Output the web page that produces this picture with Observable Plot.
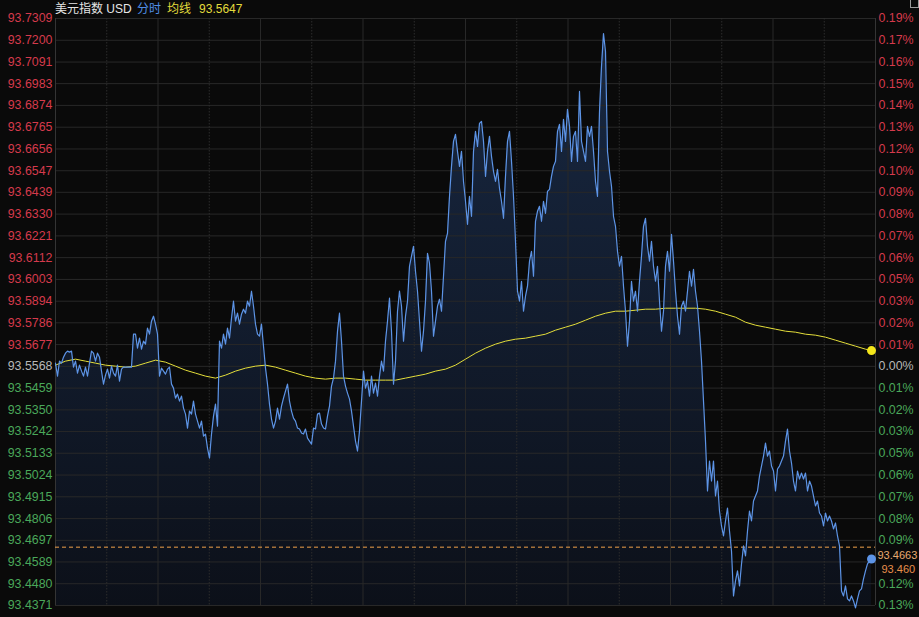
<!DOCTYPE html>
<html><head><meta charset="utf-8">
<script src="https://cdn.jsdelivr.net/npm/d3@7"></script>
<script src="https://cdn.jsdelivr.net/npm/@observablehq/plot@0.6"></script>
<style>
html,body{margin:0;padding:0;background:#0a0a0a;}
#wrap{position:relative;width:919px;height:617px;overflow:hidden;background:#0a0a0a;}
#hdr{position:absolute;left:55px;top:0px;font-size:12px;line-height:15px;white-space:nowrap;font-family:"Liberation Sans","Noto Sans CJK SC",sans-serif;}
#hdr .cn{font-family:"Noto Sans CJK SC","Liberation Sans",sans-serif;}
#icon{position:absolute;left:910px;top:0px;width:7px;height:7px;border:1px solid #9a9a9a;border-top:none;}
</style></head>
<body><div id="wrap"><div id="chart"></div>
<div id="hdr"><span class="cn" style="color:#e6e6e6">美元指数</span><span style="color:#e6e6e6"> USD </span><span class="cn" style="color:#4f8ee6;margin-left:2px">分时</span><span class="cn" style="color:#e2dc3c;margin-left:6px">均线</span><span style="color:#e2dc3c;margin-left:8px">93.5647</span></div>
<div id="icon"></div>
</div>
<script>
// Reference levels
const prevClose = 93.5568;
const markPrice = 93.4663;
const lastLabel = "93.460";
const leftTicks = [93.7309, 93.7200, 93.7091, 93.6983, 93.6874, 93.6765, 93.6656, 93.6547, 93.6439, 93.6330,
  93.6221, 93.6112, 93.6003, 93.5894, 93.5786, 93.5677, 93.5568, 93.5459, 93.5350, 93.5242,
  93.5133, 93.5024, 93.4915, 93.4806, 93.4697, 93.4589, 93.4480, 93.4371];
const rightLabels = ["0.19%","0.17%","0.16%","0.15%","0.14%","0.13%","0.12%","0.10%","0.09%","0.08%",
  "0.07%","0.06%","0.05%","0.03%","0.02%","0.01%","0.00%","0.01%","0.02%","0.03%",
  "0.05%","0.06%","0.07%","0.08%","0.09%","0.10%","0.12%","0.13%"];
// Time grid (hours of the session)
const majorHours = [3, 6, 9, 12, 15, 18, 21];
const minorHours = [1.5, 4.5, 7.5, 10.5, 13.5, 16.5, 19.5, 22.5];
const sessionHours = 24;
const sampleCount = 410;
// Intraday price samples
const prices = [
93.5584,93.5519,93.5594,93.5584,93.5614,93.5634,93.5644,93.5639,93.5644,93.5564,
93.5594,93.5534,93.5574,93.5544,93.5519,93.5564,93.5519,93.5584,93.5644,93.5634,
93.5594,93.5634,93.5614,93.5544,93.5479,93.5524,93.5554,93.5509,93.5569,93.5534,
93.5519,93.5574,93.5494,93.5554,93.5564,93.5564,93.5564,93.5564,93.5564,93.5729,
93.5729,93.5659,93.5709,93.5654,93.5694,93.5679,93.5759,93.5729,93.5794,93.5819,
93.5779,93.5729,93.5519,93.5559,93.5544,93.5529,93.5554,93.5564,93.5479,93.5459,
93.5409,93.5429,93.5394,93.5419,93.5359,93.5329,93.5259,93.5344,93.5329,93.5394,
93.5329,93.5294,93.5259,93.5294,93.5219,93.5229,93.5159,93.5109,93.5229,93.5319,
93.5379,93.5269,93.5694,93.5659,93.5729,93.5679,93.5759,93.5709,93.5809,93.5894,
93.5794,93.5834,93.5779,93.5829,93.5854,93.5834,93.5894,93.5869,93.5944,93.5869,
93.5779,93.5729,93.5719,93.5779,93.5669,93.5559,93.5479,93.5379,93.5304,93.5259,
93.5294,93.5359,93.5304,93.5369,93.5409,93.5444,93.5479,93.5394,93.5344,93.5309,
93.5294,93.5259,93.5254,93.5234,93.5229,93.5254,93.5209,93.5194,93.5179,93.5259,
93.5254,93.5329,93.5334,93.5279,93.5259,93.5254,93.5319,93.5369,93.5469,93.5509,
93.5594,93.5744,93.5834,93.5694,93.5519,93.5469,93.5434,93.5404,93.5344,93.5269,
93.5194,93.5144,93.5244,93.5394,93.5544,93.5459,93.5494,93.5419,93.5519,93.5434,
93.5484,93.5419,93.5519,93.5594,93.5544,93.5694,93.5794,93.5909,93.5744,93.5479,
93.5594,93.5844,93.5944,93.5869,93.5694,93.5819,93.5894,93.6069,93.6119,93.6169,
93.6044,93.5944,93.5794,93.5644,93.5744,93.5894,93.6134,93.6084,93.5944,93.5719,
93.5794,93.5869,93.5904,93.5844,93.6019,93.6194,93.6234,93.6419,93.6569,93.6694,
93.6729,93.6644,93.6569,93.6644,93.6494,93.6394,93.6279,93.6419,93.6319,93.6644,
93.6744,93.6669,93.6784,93.6794,93.6694,93.6519,93.6644,93.6719,93.6619,93.6544,
93.6494,93.6554,93.6459,93.6394,93.6309,93.6519,93.6694,93.6744,93.6594,93.6419,
93.6194,93.5944,93.5894,93.5994,93.5844,93.5919,93.5969,93.6094,93.6144,93.6019,
93.6294,93.6344,93.6369,93.6294,93.6394,93.6334,93.6444,93.6454,93.6519,93.6569,
93.6594,93.6744,93.6779,93.6644,93.6804,93.6694,93.6854,93.6769,93.6594,93.6719,
93.6744,93.6594,93.6944,93.6694,93.6644,93.6594,93.6769,93.6719,93.6769,93.6644,
93.6494,93.6419,93.6844,93.7069,93.7234,93.7144,93.6644,93.6544,93.6469,93.6319,
93.6269,93.6144,93.6069,93.6119,93.5969,93.5844,93.5669,93.5794,93.5994,93.5894,
93.5944,93.5844,93.5994,93.6119,93.6269,93.6309,93.6169,93.6094,93.6194,93.6069,
93.5994,93.6069,93.5894,93.5744,93.5844,93.6069,93.6144,93.6044,93.6229,93.6094,
93.5944,93.5819,93.5729,93.5869,93.5894,93.5844,93.5944,93.6044,93.5969,93.6054,
93.5944,93.5869,93.5744,93.5594,93.5394,93.5194,93.4944,93.5094,93.4994,93.5094,
93.4919,93.4994,93.4844,93.4769,93.4719,93.4794,93.4859,93.4744,93.4644,93.4419,
93.4494,93.4544,93.4469,93.4579,93.4669,93.4619,93.4744,93.4844,93.4794,93.4894,
93.4919,93.4944,93.5019,93.5069,93.5119,93.5184,93.5119,93.5144,93.5069,93.5044,
93.4944,93.5054,93.5069,93.5094,93.5119,93.5194,93.5254,93.5144,93.5084,93.4994,
93.4944,93.5044,93.5004,93.5034,93.5004,93.5034,93.4944,93.4994,93.4969,93.4919,
93.4869,93.4894,93.4834,93.4819,93.4769,93.4834,93.4794,93.4819,93.4794,93.4754,
93.4784,93.4719,93.4669,93.4444,93.4419,93.4469,93.4404,93.4394,93.4419,93.4394,
93.4359,93.4404,93.4444,93.4454,93.4504,93.4544,93.4579,93.4594,93.4604
];
// Average price line samples (every 5th sample, plus the last)
const avgPrices = [
93.5574,93.5594,93.5604,93.5594,93.5584,93.5574,93.5569,93.5564,93.5569,93.5584,
93.5599,93.5589,93.5569,93.5549,93.5534,93.5519,93.5509,93.5524,93.5544,93.5559,
93.5569,93.5574,93.5564,93.5549,93.5534,93.5519,93.5509,93.5504,93.5509,93.5509,
93.5504,93.5499,93.5499,93.5499,93.5499,93.5509,93.5519,93.5529,93.5544,93.5554,
93.5574,93.5604,93.5634,93.5659,93.5679,93.5694,93.5704,93.5709,93.5719,93.5729,
93.5749,93.5764,93.5779,93.5799,93.5819,93.5834,93.5844,93.5844,93.5849,93.5854,
93.5854,93.5859,93.5859,93.5859,93.5859,93.5854,93.5844,93.5829,93.5814,93.5789,
93.5774,93.5764,93.5754,93.5744,93.5739,93.5729,93.5724,93.5714,93.5699,93.5684,
93.5669,93.5654,93.5647
];

const toHour = i => i * sessionHours / sampleCount;
const series = prices.map((p, i) => ({t: toHour(i), p}));
const avgSeries = avgPrices.map((p, k) => ({t: toHour(k < avgPrices.length - 1 ? k * 5 : prices.length - 1), p}));
const lastPt = series[series.length - 1];
const lastAvg = avgSeries[avgSeries.length - 1];
const yDomain = [leftTicks[leftTicks.length - 1], leftTicks[0]];

const RED = "#d63a4c", GREEN = "#4aa85a", GRAY = "#b8b8b8";
const tickRows = leftTicks.map((v, i) => ({v, i}));
const upTicks = tickRows.filter(d => d.v > prevClose + 1e-6);
const flatTicks = tickRows.filter(d => Math.abs(d.v - prevClose) < 1e-6);
const downTicks = tickRows.filter(d => d.v < prevClose - 1e-6);
// the right-hand percent label that sits under the price tags is hidden, as in the original
const hiddenUnderTag = d => d.v < markPrice && d.v > lastPt.p - 0.004;

function leftText(data, color) {
  return Plot.text(data, {y: "v", text: d => d.v.toFixed(4), frameAnchor: "left", textAnchor: "end", dx: -3, fill: color});
}
function rightText(data, color) {
  return Plot.text(data.filter(d => !hiddenUnderTag(d)), {y: "v", text: d => rightLabels[d.i], frameAnchor: "right", textAnchor: "start", dx: 3, fill: color});
}

const chart = Plot.plot({
  width: 919, height: 617,
  marginLeft: 55, marginRight: 44, marginTop: 18, marginBottom: 12,
  style: {background: "#0a0a0a", fontFamily: "'Liberation Sans', Arial, sans-serif", fontSize: "12.4px"},
  x: {domain: [0, sessionHours], axis: null},
  y: {domain: yDomain, axis: null},
  marks: [
    Plot.areaY(series, {x: "t", y1: yDomain[0], y2: "p", fill: "url(#areaGrad)"}),
    Plot.ruleY(leftTicks, {stroke: "#282828"}),
    Plot.ruleX(minorHours, {stroke: "#2c2c2c", strokeDasharray: "1.5,1.5"}),
    Plot.ruleX(majorHours, {stroke: "#282828"}),
    Plot.ruleX([0, sessionHours], {stroke: "#343434"}),
    Plot.ruleY([markPrice], {stroke: "#f0a24a", strokeDasharray: "4,3"}),
    Plot.line(avgSeries, {x: "t", y: "p", stroke: "#e4de3a", strokeWidth: 1}),
    Plot.line(series, {x: "t", y: "p", stroke: "#5d94e6", strokeWidth: 1.2}),
    Plot.dot([lastAvg], {x: "t", y: "p", r: 4.5, fill: "#f4e61a"}),
    Plot.dot([lastPt], {x: "t", y: "p", r: 4.5, fill: "#5d94e6"}),
    leftText(upTicks, RED), leftText(flatTicks, GRAY), leftText(downTicks, GREEN),
    rightText(upTicks, RED), rightText(flatTicks, GRAY), rightText(downTicks, GREEN),
    Plot.text([markPrice], {y: d => d, text: d => d.toFixed(4), frameAnchor: "right", textAnchor: "start", dx: 2, dy: 8.5, fontSize: 11, fill: "#e8aa70"}),
    Plot.text([lastPt], {y: "p", text: () => lastLabel, frameAnchor: "right", textAnchor: "start", dx: 6, dy: 10.5, fontSize: 11, fill: "#e8904c"})
  ]
});
d3.select(chart).insert("defs", ":first-child").html(
  '<linearGradient id="areaGrad" x1="0" y1="0" x2="0" y2="1">' +
  '<stop offset="0" stop-color="#182842"/><stop offset="1" stop-color="#0c1019"/></linearGradient>');
document.getElementById("chart").appendChild(chart);
</script>
</body></html>
